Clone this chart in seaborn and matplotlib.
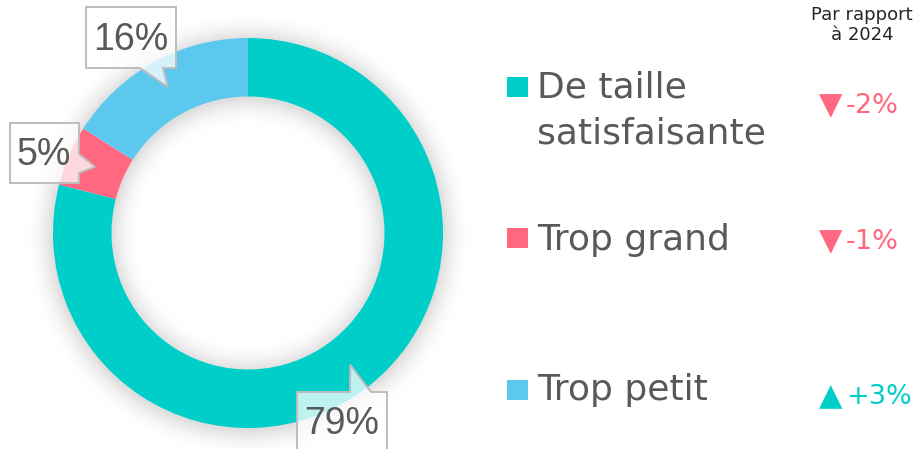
import numpy as np
import matplotlib
matplotlib.use("Agg")
import matplotlib.pyplot as plt
from matplotlib.patches import Wedge, Polygon
import pandas as pd
import seaborn as sns

# ---- data ----
categories = ["De taille\nsatisfaisante", "Trop grand", "Trop petit"]
shares = [79, 5, 16]
share_labels = ["79%", "5%", "16%"]
changes = ["-2%", "-1%", "+3%"]
change_up = [False, False, True]
header = "Par rapport\nà 2024"

sns.set_theme(style="white")
plt.rcParams["font.family"] = ["DejaVu Sans"]
palette = sns.color_palette(["#00CEC9", "#FF687E", "#5DC8EE"])
TXT = "#595959"

W, H = 917, 449
fig = plt.figure(figsize=(W / 100, H / 100), dpi=100)
fig.patch.set_facecolor("white")

# donut axes: center (248,233) px, outer radius 195 px
cx, cy, R = 248, 233, 195
half = 235
ax = fig.add_axes([(cx - half) / W, (H - cy - half) / H, 2 * half / W, 2 * half / H])
lim = half / R

# soft shadow rings (outer halo and inner halo), overlapping under the ring
n, step = 30, 0.005
for i in range(n):
    a = 0.13 * (1 - i / n) ** 2
    w_out = step + (0.03 if i == 0 else 0)
    w_in = step + (0.03 if i == 0 else 0)
    ax.add_patch(Wedge((0, -0.008), 1.0 + (i + 1) * step, 0, 360, width=w_out,
                       facecolor="black", alpha=a, lw=0))
    ax.add_patch(Wedge((0, -0.008), 0.70 - i * step + (0.03 if i == 0 else 0), 0, 360,
                       width=w_in, facecolor="black", alpha=a, lw=0))

wedges, _ = ax.pie(shares, colors=palette, startangle=90, counterclock=False,
                   radius=1.0, wedgeprops=dict(width=0.30, linewidth=0))
ax.set_xlim(-lim, lim)
ax.set_ylim(-lim, lim)
ax.set_aspect("equal")
ax.axis("off")

# overlay in pixel coordinates
ov = fig.add_axes([0, 0, 1, 1])
ov.patch.set_alpha(0)

# callout boxes (layout): (x0, y0, x1, y1), side of pointer, base span on that side
boxes = [
    ((297, 392, 387, 460), "top", (350, 371)),
    ((10, 123, 79, 183), "right", (154, 173)),
    ((86, 7, 176, 68), "bottom", (140, 163)),
]
text_centers = [(342, 424), (44, 155), (131, 40)]

for w, lab, (bx, side, span), tc in zip(wedges, share_labels, boxes, text_centers):
    mid = np.deg2rad((w.theta1 + w.theta2) / 2)
    tipx = cx + 0.855 * R * np.cos(mid)
    tipy = cy - 0.855 * R * np.sin(mid)
    x0, y0, x1, y1 = bx
    a, b = span
    if side == "top":
        pts = [(x0, y0), (a, y0), (tipx, tipy), (b, y0), (x1, y0), (x1, y1), (x0, y1)]
    elif side == "bottom":
        pts = [(x0, y0), (x1, y0), (x1, y1), (b, y1), (tipx, tipy), (a, y1), (x0, y1)]
    else:  # right
        pts = [(x0, y0), (x1, y0), (x1, a), (tipx, tipy), (x1, b), (x1, y1), (x0, y1)]
    ov.add_patch(Polygon(pts, closed=True, facecolor=(1, 1, 1, 0.75),
                         edgecolor="#BDBDBD", lw=1.4, zorder=5))
    ov.text(tc[0], tc[1], lab, ha="center", va="center", fontsize=27,
            color=TXT, family=["Liberation Sans"], zorder=6)

# legend squares via seaborn
leg = pd.DataFrame({"x": [517.5] * 3, "y": [87, 238, 390], "cat": categories})
sns.scatterplot(data=leg, x="x", y="y", hue="cat", palette=palette, marker="s",
                s=225, linewidth=0, legend=False, ax=ov)
ov.set_xlim(0, W)
ov.set_ylim(H, 0)
ov.axis("off")

text_base = [97, 250, 400]
for lab, yb in zip(categories, text_base):
    for k, line in enumerate(lab.split("\n")):
        ov.text(537, yb + 46 * k, line, ha="left", va="baseline", fontsize=26,
                color=TXT, zorder=6)

ov.text(862, 25, header, ha="center", va="center", fontsize=13,
        color="#262626", linespacing=1.2)

change_y = [106, 242, 397]
for ch, up, yc in zip(changes, change_up, change_y):
    col = palette[0] if up else palette[1]
    ov.text(831, yc, "▲" if up else "▼", ha="center", va="center",
            fontsize=22, color=col)
    ov.text(846, yc, ch, ha="left", va="center", fontsize=19.5, color=col)

fig.savefig("out.png", dpi=100, facecolor="white")
